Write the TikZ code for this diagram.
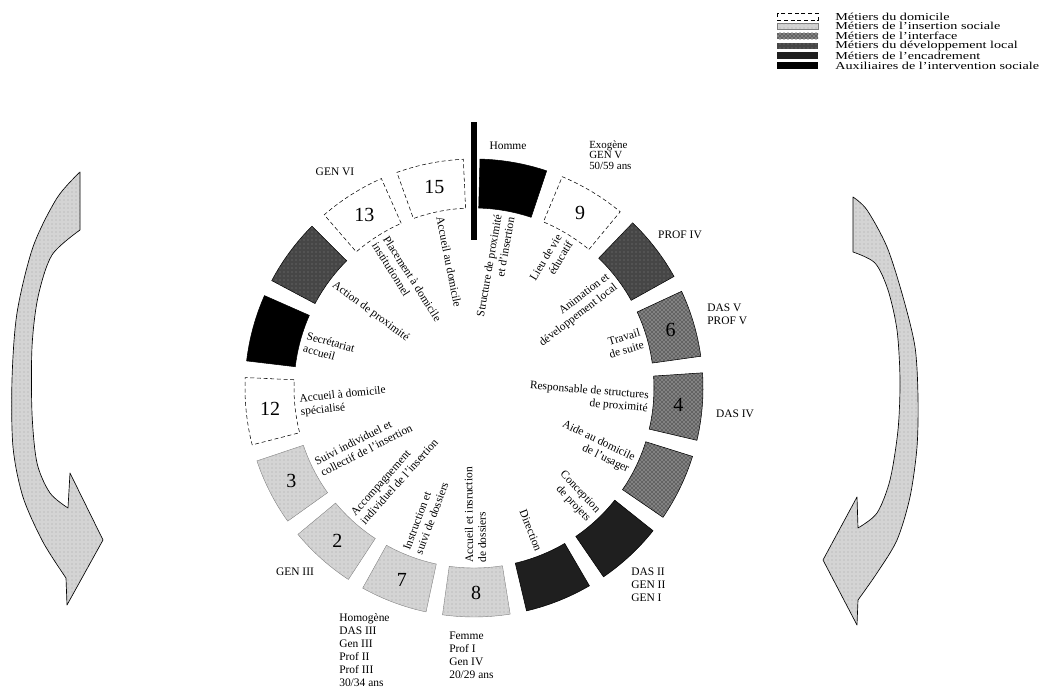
\documentclass[tikz,border=0pt]{standalone}
\usepackage{fontspec}
\setmainfont{Liberation Serif}
\usepackage{tikz}
\usetikzlibrary{
	positioning, calc, patterns
}
\definecolor{ringlight}     {RGB}{212, 212, 212}
\definecolor{ringmid}       {RGB}{130, 130, 130}
\definecolor{ringdark}      {RGB}{70,  70,  70}
\definecolor{arrowgrey}     {RGB}{212, 212, 212}

\begin{document}
\begin{tikzpicture}[x=0.75pt, y=-0.75pt,
		domicile/.style={draw, densely dashed, line width=0.4pt, fill=white},
		insertion/.style={draw=gray, line width=0.3pt, fill=ringlight, postaction={pattern=dots, pattern color=gray!70}},
		interface/.style={fill=ringmid, postaction={pattern=crosshatch dots, pattern color=black}},
		devlocal/.style={fill=ringdark, postaction={pattern=dots, pattern color=gray}},
		encadrement/.style={fill=black!88},
		auxiliaire/.style={fill=black},
		lbl/.style={font=\fontsize{8.6}{9.75}\selectfont, inner sep=0pt},
		lblR/.style={lbl, anchor=east, align=right},
		lblL/.style={lbl, anchor=west, align=left},
		num/.style={font=\fontsize{15}{15}\selectfont, inner sep=0pt},
		legtext/.style={font=\fontsize{8}{8}\selectfont, anchor=west, inner sep=0pt, xscale=1.33},
		bigarrow/.style={draw, line width=0.5pt, fill=arrowgrey, line join=round, postaction={pattern=dots, pattern color=gray!70}}]
	\useasboundingbox (0,0) rectangle (1051,688);

	\foreach \i/\kind/\txt in {0/domicile/Métiers du domicile, 1/insertion/Métiers de l'insertion sociale,
			2/interface/Métiers de l'interface, 3/devlocal/Métiers du développement local,
			4/encadrement/Métiers de l'encadrement, 5/auxiliaire/Auxiliaires de l'intervention sociale}{
		\path[\kind] (777,{13.3+9.8*\i}) rectangle (818,{19.8+9.8*\i});
		\node[legtext] (leg\i) at (835,{16.5+9.8*\i}) {\txt};
	}

	\begin{scope}[shift={(474,388)}, y=0.75pt]
		\foreach \k/\kind in {0/auxiliaire, 1/domicile, 2/devlocal, 3/interface, 4/interface, 5/interface,
				6/encadrement, 7/encadrement, 8/insertion, 9/insertion, 10/insertion, 11/insertion,
				12/domicile, 13/auxiliaire, 14/devlocal, 15/domicile, 16/domicile}{
			\pgfmathsetmacro{\a}{80-\k*360/17}
			\draw[\kind] ({\a-8.5}:180) -- ({\a-8.5}:229) arc[start angle=\a-8.5, end angle=\a+8.5, radius=229]
				-- ({\a+8.5}:180) arc[start angle=\a+8.5, end angle=\a-8.5, radius=180] -- cycle;
		}
		\foreach \k/\n in {1/9, 3/6, 4/4, 8/8, 9/7, 10/2, 11/3, 12/12, 15/13, 16/15}{
			\pgfmathsetmacro{\a}{80-\k*360/17}
			\node[num] (num\k) at (\a:205) {\n};
		}
		\foreach \k/\txt in {0/{Structure de proximité\\et d'insertion}, 1/{Lieu de vie\\éducatif},
				2/{Animation et\\développement local}, 3/{Travail\\de suite},
				4/{Responsable de structures\\de proximité}, 5/{Aide au domicile\\de l'usager},
				6/{Conception\\de projets}, 7/{Direction}, 8/{Accueil et insruction\\de dossiers},
				9/{Instruction et\\suivi de dossiers}, 10/{Accompagnement\\individuel de l'insertion},
				11/{Suivi individuel et\\collectif de l'insertion}, 12/{Accueil à domicile\\spécialisé},
				13/{Secrétariat\\accueil}, 14/{Action de proximité},
				15/{Placement à domicile\\institutionnel}, 16/{Accueil au domicile}}{
			\pgfmathsetmacro{\a}{80-\k*360/17}
			\ifnum\k<8
				\node[lblR, rotate=\a] (lab\k) at (\a:175) {\txt};
			\else
				\node[lblL, rotate=\a+180] (lab\k) at (\a:175) {\txt};
			\fi
		}
		\draw[line width=4.2pt] (90:148) -- (90:266);
	\end{scope}

	\node[lbl] (homme) at (508,146) {Homme};
	\node[lbl, align=left, anchor=north west, font=\fontsize{8.2}{7.6}\selectfont] (exogene) at (589,141) {Exogène\\GEN V\\50/59 ans};
	\node[lbl] (gen6) at (335,172) {GEN VI};
	\node[lbl] (prof4) at (680,235) {PROF IV};
	\node[lbl, align=left, anchor=west] (das5) at (707,314) {DAS V\\PROF V};
	\node[lbl] (das4) at (735,414) {DAS IV};
	\node[lbl, align=left, anchor=west] (das2) at (631,585) {DAS II\\GEN II\\GEN I};
	\node[lbl] (gen3) at (295,572) {GEN III};
	\node[lbl, align=left, anchor=west] (homogene) at (339,650) {Homogène\\DAS III\\Gen III\\Prof II\\Prof III\\30/34 ans};
	\node[lbl, align=left, anchor=west] (femme) at (449,655) {Femme\\Prof I\\Gen IV\\20/29 ans};

	\filldraw[bigarrow] plot[smooth] coordinates {(80,230) (52,255) (38,297) (32,347) (32,413) (37,463) (50,493) (68,508)}
		-- (70,473) -- (103,540) -- (67,605) -- (66,578)
		-- plot[smooth] coordinates {(66,578) (43,542) (23,497) (13,447) (12,380) (17,313) (33,247) (57,198) (80,172)} -- cycle;
	\filldraw[bigarrow] plot[smooth] coordinates {(853,252) (875,263) (888,290) (897,330) (900,380) (898,430) (890,480) (877,513) (858,528)}
		-- (857,497) -- (823,560) -- (857,625) -- (858,600)
		-- plot[smooth] coordinates {(858,600) (877,573) (897,540) (910,497) (917,447) (918,397) (915,347) (903,297) (887,247) (867,210) (853,197)} -- cycle;
\end{tikzpicture}
\end{document}
